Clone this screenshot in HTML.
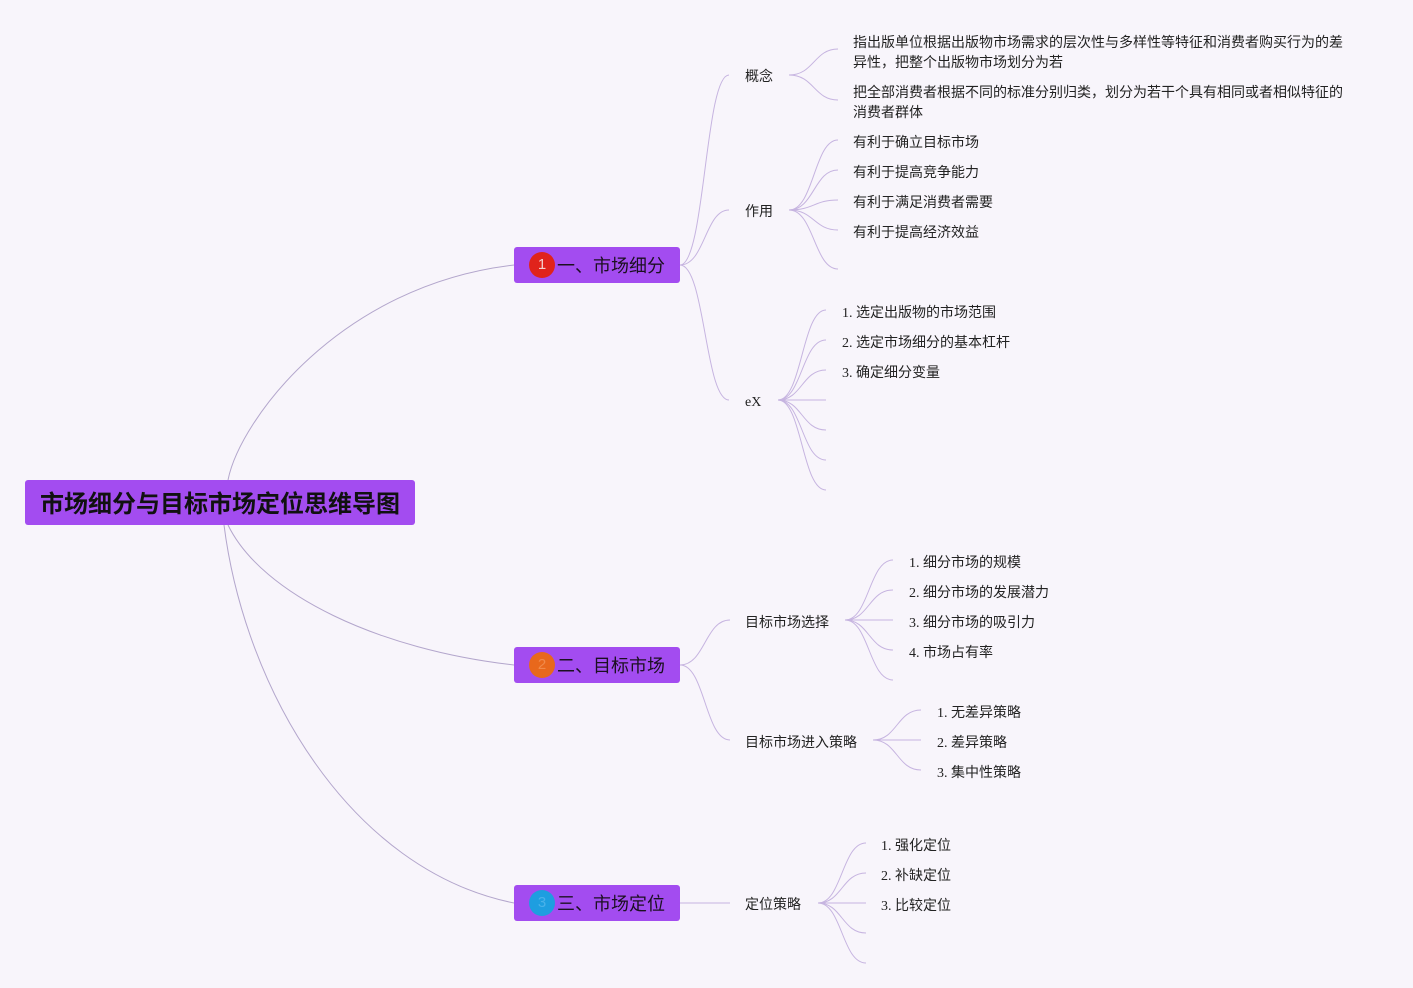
<!DOCTYPE html>
<html><head><meta charset="utf-8"><style>
html,body{margin:0;padding:0}
body{width:1413px;height:988px;background:#f8f5fb;position:relative;overflow:hidden;font-family:"Liberation Serif","Noto Sans CJK SC",serif;color:#222}
.t{position:absolute;font-size:14px;line-height:20px;white-space:nowrap;margin-top:3px}
.box{position:absolute;background:#a34cf0;border-radius:3px}
.main{height:36px;width:166px;left:514px}
.mt{position:absolute;left:43px;top:1px;line-height:36px;font-size:18px;color:#1b1020;font-family:"Liberation Sans","Noto Sans CJK SC",sans-serif;white-space:nowrap}
.badge{position:absolute;left:15px;top:5px;width:26px;height:26px;border-radius:50%;text-align:center;line-height:26px;font-size:15px;font-family:"Liberation Sans",sans-serif}
</style></head><body>
<svg width="1413" height="988" style="position:absolute;left:0;top:0" fill="none">
<g stroke="#b3a6cc" stroke-width="1">
<path d="M228,480 C240,420 340,285 514,265"/>
<path d="M228,525 C262,595 380,650 514,665"/>
<path d="M224,525 C245,690 350,870 514,903"/>
</g>
<g stroke="#c6b4e0" stroke-width="1">
<path d="M680,265 C705,265 705,75 729,75"/>
<path d="M680,265 C705,265 705,210 729,210"/>
<path d="M680,265 C705,265 705,400 729,400"/>
<path d="M789,75 C814,75 814,49 838,49"/>
<path d="M789,75 C814,75 814,100 838,100"/>
<path d="M789,210 C814,210 814,140 838,140"/>
<path d="M789,210 C814,210 814,170 838,170"/>
<path d="M789,210 C814,210 814,200 838,200"/>
<path d="M789,210 C814,210 814,230 838,230"/>
<path d="M789,210 C814,210 814,269 838,269"/>
<path d="M778,400 C802,400 802,310 826,310"/>
<path d="M778,400 C802,400 802,340 826,340"/>
<path d="M778,400 C802,400 802,370 826,370"/>
<path d="M778,400 L826,400"/>
<path d="M778,400 C802,400 802,430 826,430"/>
<path d="M778,400 C802,400 802,460 826,460"/>
<path d="M778,400 C802,400 802,490 826,490"/>
<path d="M680,665 C705,665 705,620 730,620"/>
<path d="M680,665 C705,665 705,740 730,740"/>
<path d="M845,620 C869,620 869,560 893,560"/>
<path d="M845,620 C869,620 869,590 893,590"/>
<path d="M845,620 L893,620"/>
<path d="M845,620 C869,620 869,650 893,650"/>
<path d="M845,620 C869,620 869,680 893,680"/>
<path d="M873,740 C897,740 897,710 921,710"/>
<path d="M873,740 L921,740"/>
<path d="M873,740 C897,740 897,770 921,770"/>
<path d="M680,903 L730,903"/>
<path d="M818,903 C842,903 842,843 866,843"/>
<path d="M818,903 C842,903 842,873 866,873"/>
<path d="M818,903 L866,903"/>
<path d="M818,903 C842,903 842,933 866,933"/>
<path d="M818,903 C842,903 842,963 866,963"/>
</g>
</svg>

<div class="box" style="left:25px;top:480px;width:390px;height:45px">
<div style="position:absolute;left:15px;top:2px;line-height:45px;font-size:24px;font-weight:700;color:#111;white-space:nowrap;font-family:'Liberation Sans','Noto Sans CJK SC',sans-serif">市场细分与目标市场定位思维导图</div>
</div>

<div class="box main" style="top:247px"><div class="badge" style="background:#e0231b;color:#f3d0cc">1</div><div class="mt">一、市场细分</div></div>
<div class="box main" style="top:647px"><div class="badge" style="background:#e8681c;color:#f08a4a">2</div><div class="mt">二、目标市场</div></div>
<div class="box main" style="top:885px"><div class="badge" style="background:#1e9ee0;color:#4ab2ea">3</div><div class="mt">三、市场定位</div></div>

<div class="t" style="left:745px;top:65px">概念</div>
<div class="t" style="left:853px;top:31px">指出版单位根据出版物市场需求的层次性与多样性等特征和消费者购买行为的差<br>异性，把整个出版物市场划分为若</div>
<div class="t" style="left:853px;top:81px">把全部消费者根据不同的标准分别归类，划分为若干个具有相同或者相似特征的<br>消费者群体</div>

<div class="t" style="left:745px;top:200px">作用</div>
<div class="t" style="left:853px;top:131px">有利于确立目标市场</div>
<div class="t" style="left:853px;top:161px">有利于提高竞争能力</div>
<div class="t" style="left:853px;top:191px">有利于满足消费者需要</div>
<div class="t" style="left:853px;top:221px">有利于提高经济效益</div>

<div class="t" style="left:745px;top:390px">eX</div>
<div class="t" style="left:842px;top:301px">1. 选定出版物的市场范围</div>
<div class="t" style="left:842px;top:331px">2. 选定市场细分的基本杠杆</div>
<div class="t" style="left:842px;top:361px">3. 确定细分变量</div>

<div class="t" style="left:745px;top:611px">目标市场选择</div>
<div class="t" style="left:909px;top:551px">1. 细分市场的规模</div>
<div class="t" style="left:909px;top:581px">2. 细分市场的发展潜力</div>
<div class="t" style="left:909px;top:611px">3. 细分市场的吸引力</div>
<div class="t" style="left:909px;top:641px">4. 市场占有率</div>

<div class="t" style="left:745px;top:731px">目标市场进入策略</div>
<div class="t" style="left:937px;top:701px">1. 无差异策略</div>
<div class="t" style="left:937px;top:731px">2. 差异策略</div>
<div class="t" style="left:937px;top:761px">3. 集中性策略</div>

<div class="t" style="left:745px;top:893px">定位策略</div>
<div class="t" style="left:881px;top:834px">1. 强化定位</div>
<div class="t" style="left:881px;top:864px">2. 补缺定位</div>
<div class="t" style="left:881px;top:894px">3. 比较定位</div>
</body></html>
